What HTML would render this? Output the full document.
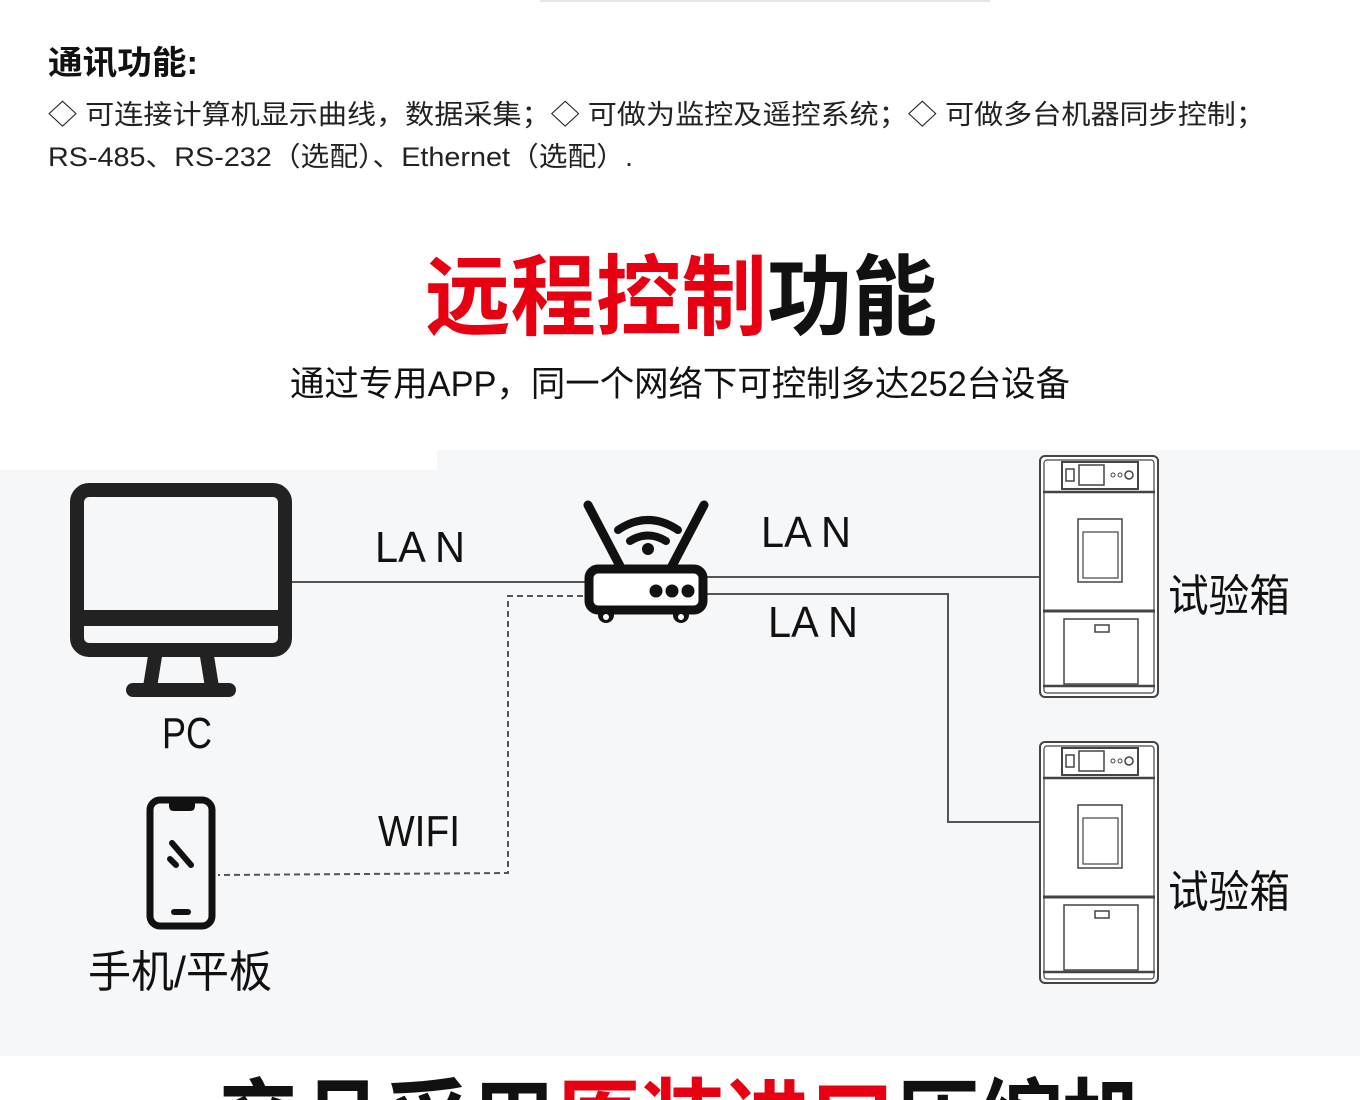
<!DOCTYPE html>
<html><head><meta charset="utf-8">
<style>
html,body{margin:0;padding:0;background:#fff;width:1360px;height:1100px;overflow:hidden}
svg{display:block}
text{font-family:"Liberation Sans","Noto Sans CJK SC",sans-serif}
</style></head><body>
<svg width="1360" height="1100" viewBox="0 0 1360 1100" xmlns="http://www.w3.org/2000/svg" overflow="hidden">
<defs><clipPath id="pg"><rect width="1360" height="1100"/></clipPath></defs>
<g clip-path="url(#pg)">
<rect width="1360" height="1100" fill="#fff"/>
<rect x="540" y="0" width="450" height="2" fill="#e6e6e6"/>
<text x="48" y="74" font-size="33" font-weight="bold" fill="#111" textLength="150" lengthAdjust="spacingAndGlyphs">通讯功能:</text>
<text x="48" y="124" font-size="27" fill="#222" textLength="1217" lengthAdjust="spacingAndGlyphs">◇ 可连接计算机显示曲线，数据采集；◇ 可做为监控及遥控系统；◇ 可做多台机器同步控制；</text>
<text x="48" y="166" font-size="27" fill="#222" textLength="585" lengthAdjust="spacingAndGlyphs">RS-485、RS-232（选配）、Ethernet（选配）.</text>
<text x="425" y="328" font-size="88" font-weight="bold" fill="#e60012" textLength="342" lengthAdjust="spacingAndGlyphs">远程控制</text>
<text x="767" y="328" font-size="88" font-weight="bold" fill="#111" textLength="170" lengthAdjust="spacingAndGlyphs">功能</text>
<text x="290" y="396" font-size="35" fill="#111" textLength="780" lengthAdjust="spacingAndGlyphs">通过专用APP，同一个网络下可控制多达252台设备</text>
<path d="M0 470 H437 V450 H1360 V1056 H0 Z" fill="#f6f7f9"/>
<g stroke="#555" stroke-width="2" fill="none">
<line x1="292" y1="582" x2="586" y2="582"/>
<line x1="707" y1="577" x2="1040" y2="577"/>
<polyline points="707,594 948,594 948,822 1040,822"/>
</g>
<g stroke="#555" stroke-width="2" fill="none" stroke-dasharray="6,4">
<polyline points="583,596 508,596 508,873 218,875"/>
</g>
<g fill="none" stroke="#222">
<rect x="77" y="490" width="208" height="160" rx="12" stroke-width="14"/>
<line x1="78" y1="618" x2="284" y2="618" stroke-width="16"/>
<path d="M156 650 L150 687 M206 650 L212 687" stroke-width="14"/>
<line x1="133" y1="690" x2="229" y2="690" stroke-width="14" stroke-linecap="round"/>
</g>
<g stroke="#111" fill="none" stroke-linecap="round">
<line x1="588" y1="505" x2="620" y2="566" stroke-width="9"/>
<line x1="704" y1="505" x2="672" y2="566" stroke-width="9"/>
<rect x="589" y="569" width="114" height="41" rx="9" stroke-width="9" fill="#fff"/>
<path d="M618 530 Q648 510 678 530" stroke-width="8"/>
<path d="M630 541 Q648 530 666 541" stroke-width="8"/>
</g>
<g fill="#111">
<circle cx="648" cy="549" r="6"/>
<circle cx="656" cy="591" r="6.5"/><circle cx="672" cy="591" r="6.5"/><circle cx="688" cy="591" r="6.5"/>
<circle cx="606" cy="615" r="8"/><circle cx="681" cy="615" r="8"/>
</g>
<circle cx="606" cy="617" r="3" fill="#fff"/><circle cx="681" cy="617" r="3" fill="#fff"/>
<g stroke="#111" fill="none" stroke-linecap="round">
<rect x="150" y="800" width="62" height="126" rx="10" stroke-width="7"/>
<path d="M170 801 h24 v5 q0 4 -4 4 h-16 q-4 0 -4 -4z" fill="#111" stroke-width="2"/>
<line x1="172" y1="843" x2="191" y2="865" stroke-width="6"/>
<line x1="170" y1="859" x2="176" y2="865" stroke-width="6"/>
<line x1="174" y1="912" x2="188" y2="912" stroke-width="6"/>
</g>
<g id="cab" fill="#fff" stroke="#444" stroke-width="2">
<rect x="1040" y="456" width="118" height="241" rx="5"/>
<rect x="1044" y="460" width="110" height="233" rx="3" fill="none" stroke-width="1.2"/>
<rect x="1062" y="462" width="76" height="27" fill="none"/>
<rect x="1066" y="469" width="8" height="12" fill="none" stroke-width="1.5"/>
<rect x="1079" y="465" width="25" height="20" fill="none" stroke-width="1.5"/>
<circle cx="1113" cy="475" r="2" fill="none" stroke-width="1"/><circle cx="1120" cy="475" r="2" fill="none" stroke-width="1"/><circle cx="1129" cy="475" r="4" fill="none" stroke-width="1.5"/>
<line x1="1043" y1="492" x2="1155" y2="492" stroke-width="2.5"/>
<rect x="1078" y="519" width="44" height="63" fill="none" stroke-width="1.5"/>
<rect x="1083" y="532" width="35" height="46" fill="none" stroke-width="1.2"/>
<line x1="1043" y1="611" x2="1155" y2="611" stroke-width="3"/>
<rect x="1064" y="619" width="74" height="65" fill="none" stroke-width="1.5"/>
<rect x="1095" y="625" width="14" height="7" fill="none" stroke-width="1.5"/>
<line x1="1043" y1="686" x2="1155" y2="686" stroke-width="2.5"/>
</g>
<use href="#cab" y="286"/>
<g fill="#111" font-size="44">
<text x="375" y="562" textLength="90" lengthAdjust="spacingAndGlyphs">LA N</text>
<text x="761" y="547" textLength="90" lengthAdjust="spacingAndGlyphs">LA N</text>
<text x="768" y="637" textLength="90" lengthAdjust="spacingAndGlyphs">LA N</text>
<text x="162" y="748" textLength="50" lengthAdjust="spacingAndGlyphs">PC</text>
<text x="378" y="846" textLength="82" lengthAdjust="spacingAndGlyphs">WIFI</text>
<text x="88" y="987" textLength="184" lengthAdjust="spacingAndGlyphs">手机/平板</text>
<text x="1168" y="611" textLength="122" lengthAdjust="spacingAndGlyphs">试验箱</text>
<text x="1168" y="907" textLength="122" lengthAdjust="spacingAndGlyphs">试验箱</text>
</g>
<text x="215" y="1155" font-size="92" font-weight="bold" fill="#111" textLength="340" lengthAdjust="spacingAndGlyphs">产品采用</text>
<text x="555" y="1155" font-size="92" font-weight="bold" fill="#e60012" textLength="340" lengthAdjust="spacingAndGlyphs">原装进口</text>
<text x="895" y="1155" font-size="92" font-weight="bold" fill="#111" textLength="250" lengthAdjust="spacingAndGlyphs">压缩机</text>
</g>
</svg>
</body></html>
